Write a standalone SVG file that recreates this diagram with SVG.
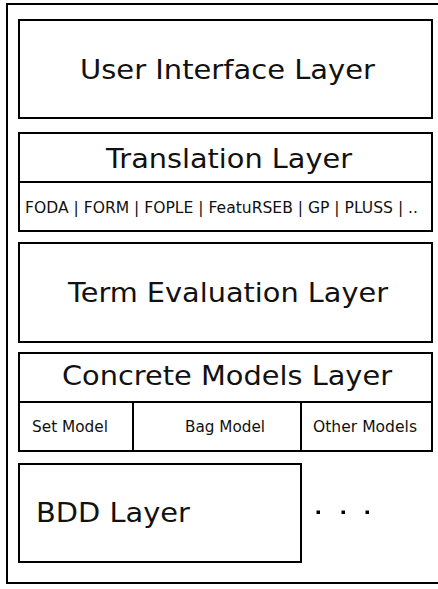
<svg xmlns="http://www.w3.org/2000/svg" width="438" height="589" viewBox="0 0 438 589">
<style>
.box{fill:#fff;stroke:#000;stroke-width:2}
.ln{stroke:#000;stroke-width:2;fill:none}
.big{font-family:"DejaVu Sans",sans-serif;font-size:27px;fill:#111;text-anchor:middle}
.sm{font-family:"DejaVu Sans",sans-serif;font-size:15.5px;fill:#111;text-anchor:middle}
</style>
<rect width="438" height="589" fill="#fff"/>
<g id="outer"><rect x="7" y="4" width="440" height="579" class="box"/></g>
<g id="ui">
<rect x="19" y="20" width="413" height="98" class="box"/>
<text x="227.5" y="79" class="big" textLength="295" lengthAdjust="spacingAndGlyphs">User Interface Layer</text>
</g>
<g id="translation">
<rect x="19" y="133" width="413" height="98" class="box"/>
<line x1="19" y1="182" x2="432" y2="182" class="ln"/>
<text x="229" y="168" class="big" textLength="246" lengthAdjust="spacingAndGlyphs">Translation Layer</text>
<text x="221.5" y="213" class="sm" textLength="393" lengthAdjust="spacingAndGlyphs">FODA | FORM | FOPLE | FeatuRSEB | GP | PLUSS | ..</text>
</g>
<g id="term">
<rect x="19" y="243" width="413" height="99" class="box"/>
<text x="228" y="302" class="big" textLength="320" lengthAdjust="spacingAndGlyphs">Term Evaluation Layer</text>
</g>
<g id="concrete">
<rect x="19" y="353" width="413" height="98" class="box"/>
<line x1="19" y1="402" x2="432" y2="402" class="ln"/>
<line x1="133" y1="402" x2="133" y2="451" class="ln"/>
<line x1="301" y1="402" x2="301" y2="451" class="ln"/>
<text x="227" y="385" class="big" textLength="330" lengthAdjust="spacingAndGlyphs">Concrete Models Layer</text>
<text x="70" y="432" class="sm" textLength="76" lengthAdjust="spacingAndGlyphs">Set Model</text>
<text x="225" y="432" class="sm" textLength="80" lengthAdjust="spacingAndGlyphs">Bag Model</text>
<text x="365" y="432" class="sm" textLength="104" lengthAdjust="spacingAndGlyphs">Other Models</text>
</g>
<g id="bdd">
<rect x="19" y="464" width="282" height="98" class="box"/>
<text x="113" y="522" class="big" textLength="154" lengthAdjust="spacingAndGlyphs">BDD Layer</text>
</g>
<g id="ellipsis">
<rect x="316.5" y="510.5" width="3.5" height="3.5" fill="#000"/>
<rect x="341.5" y="510.5" width="3.5" height="3.5" fill="#000"/>
<rect x="365.5" y="510.5" width="3.5" height="3.5" fill="#000"/>
</g>
</svg>
